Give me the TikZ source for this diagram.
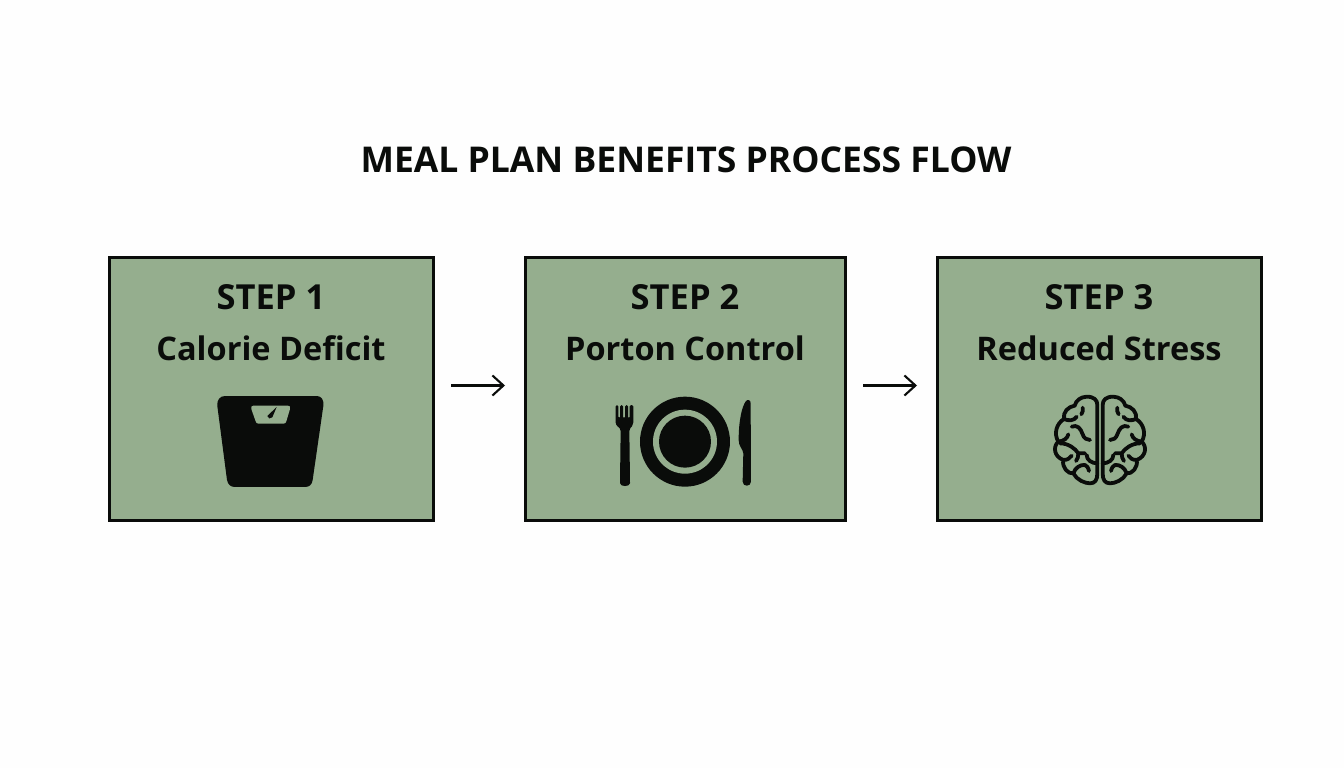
\documentclass[tikz,border=0pt]{standalone}
\usepackage{fontspec}
\setmainfont{Open Sans}
\usetikzlibrary{arrows.meta}
\definecolor{boxgreen}{HTML}{95AE8E}
\definecolor{ink}{HTML}{0A0C0A}
\definecolor{pagebg}{HTML}{FEFEFE}
\tikzset{
  stepbox/.style={draw=ink,line width=3pt,fill=boxgreen,rectangle,inner sep=0pt,anchor=north west},
  steptext/.style={font=\fontsize{32.5}{36}\selectfont\bfseries,text=ink,inner sep=0pt,anchor=base},
  stephead/.style={font=\fontsize{34.5}{36}\selectfont\bfseries,text=ink,inner sep=0pt,anchor=base},
  titletext/.style={font=\fontsize{35.5}{40}\selectfont\bfseries,text=ink,inner sep=0pt,anchor=base},
  flowarrow/.style={draw=ink,line width=2.1pt,-{Straight Barb[length=11pt,width=20pt,line width=2.1pt]}},
  brainline/.style={draw=ink,line width=3.8pt,line cap=round,line join=round},
}
\newcommand{\brainhalf}{%
  \draw[brainline] (-8,60) .. controls (-8,45) and (-18,35) .. (-40,35)
    .. controls (-58,36) and (-72,46) .. (-76,62)
    .. controls (-96,65) and (-112,82) .. (-108,102)
    .. controls (-130,115) and (-140,145) .. (-125,170)
    .. controls (-142,185) and (-138,215) .. (-110,225)
    .. controls (-115,248) and (-95,268) .. (-80,265)
    .. controls (-70,285) and (-45,295) .. (-30,295)
    .. controls (-15,295) and (-8,285) .. (-8,265) -- cycle;
  \draw[brainline] (-108,102) .. controls (-95,108) and (-78,108) .. (-70,95);
  \draw[brainline] (-52,68) .. controls (-50,75) and (-52,82) .. (-56,88);
  \draw[brainline] (-85,125) .. controls (-68,118) and (-58,130) .. (-52,148)
    .. controls (-48,160) and (-40,165) .. (-30,165);
  \draw[brainline] (-125,170) .. controls (-108,168) and (-98,160) .. (-95,148);
  \draw[brainline] (-120,175) .. controls (-95,175) and (-75,190) .. (-65,205) -- (-45,205);
  \draw[brainline] (-65,205) .. controls (-65,215) and (-67,222) .. (-72,228);
  \draw[brainline] (-8,235) .. controls (-25,235) and (-40,225) .. (-40,210);
  \draw[brainline] (-110,225) .. controls (-98,225) and (-90,220) .. (-85,212);
  \draw[brainline] (-80,265) .. controls (-75,248) and (-58,238) .. (-45,240)
    .. controls (-40,242) and (-35,248) .. (-33,258);
}
\begin{document}
\begin{tikzpicture}[x=1pt,y=-1pt]
\useasboundingbox (0,0) rectangle (1344,768);
\fill[pagebg] (0,0) rectangle (1344,768);
\node[titletext] (title) at (686,172) {MEAL PLAN BENEFITS PROCESS FLOW};
\node[stepbox,minimum width=324pt,minimum height=263pt] (s1) at (108,255.5) {};
\node[stepbox,minimum width=319.5pt,minimum height=263pt] (s2) at (524,255.5) {};
\node[stepbox,minimum width=324pt,minimum height=263pt] (s3) at (935.5,255.5) {};
\node[stephead] (s1a) at (271,309) {STEP 1};
\node[steptext] (s1b) at (271,360) {Calorie Deficit};
\node[stephead] (s2a) at (685,309) {STEP 2};
\node[steptext] (s2b) at (685,360) {Porton Control};
\node[stephead] (s3a) at (1099,309) {STEP 3};
\node[steptext] (s3b) at (1099,360) {Reduced Stress};
\draw[flowarrow] ([xshift=16pt,yshift=3pt]s1.east) -- ([xshift=-19pt,yshift=3pt]s2.west);
\draw[flowarrow] ([xshift=16.5pt,yshift=3pt]s2.east) -- ([xshift=-18.5pt,yshift=3pt]s3.west);
% scale icon
\begin{scope}[shift={(200,380)},x=0.3333pt,y=-0.3333pt]
  \fill[ink] (75,48) -- (350,48) .. controls (365,48) and (372,60) .. (370,78)
    -- (338,300) .. controls (336,314) and (328,321) .. (315,321)
    -- (105,321) .. controls (92,321) and (84,314) .. (81,300)
    -- (52,78) .. controls (50,60) and (60,48) .. (75,48) -- cycle;
  \fill[boxgreen] (160,77) -- (264,77) .. controls (270,77) and (272,81) .. (270,87)
    -- (259,124) .. controls (258,129) and (255,131) .. (250,131)
    -- (176,131) .. controls (171,131) and (168,129) .. (167,124)
    -- (154,87) .. controls (152,81) and (154,77) .. (160,77) -- cycle;
  \fill[ink] (230,81) -- (217,112) .. controls (212,118) and (203,116) .. (202,108) -- cycle;
\end{scope}
% plate icon
\begin{scope}[shift={(600,385)},x=0.3333pt,y=-0.3333pt]
  \fill[ink] (255,170) circle[radius=45pt];
  \fill[boxgreen] (255,170) circle[radius=32pt];
  \fill[ink] (255,170) circle[radius=26pt];
  % fork
  \fill[ink,rounded corners=1.5pt] (47,60) -- (55,60) -- (55,100) -- (60,100) -- (60,60) -- (69,60) -- (69,100) -- (75,100)
    -- (75,60) -- (84,60) -- (84,100) -- (89,100) -- (89,60) -- (100,60)
    -- (100,108) .. controls (100,122) and (92,128) .. (88,134)
    -- (90,290) .. controls (90,306) and (60,306) .. (60,290) -- (62,134)
    .. controls (58,128) and (47,122) .. (47,108) -- cycle;
  % knife
  \fill[ink] (452,55) -- (453,290) .. controls (453,306) and (428,306) .. (428,290)
    -- (430,205) .. controls (428,190) and (416,185) .. (416,165)
    .. controls (416,110) and (425,65) .. (438,48)
    .. controls (444,42) and (452,45) .. (452,55) -- cycle;
\end{scope}
% brain icon
\begin{scope}[shift={(1100,385)},x=0.3333pt,y=-0.3333pt]
  \begin{scope}
    \brainhalf
  \end{scope}
  \begin{scope}[x=-0.3333pt]
    \brainhalf
  \end{scope}
\end{scope}
\end{tikzpicture}
\end{document}
